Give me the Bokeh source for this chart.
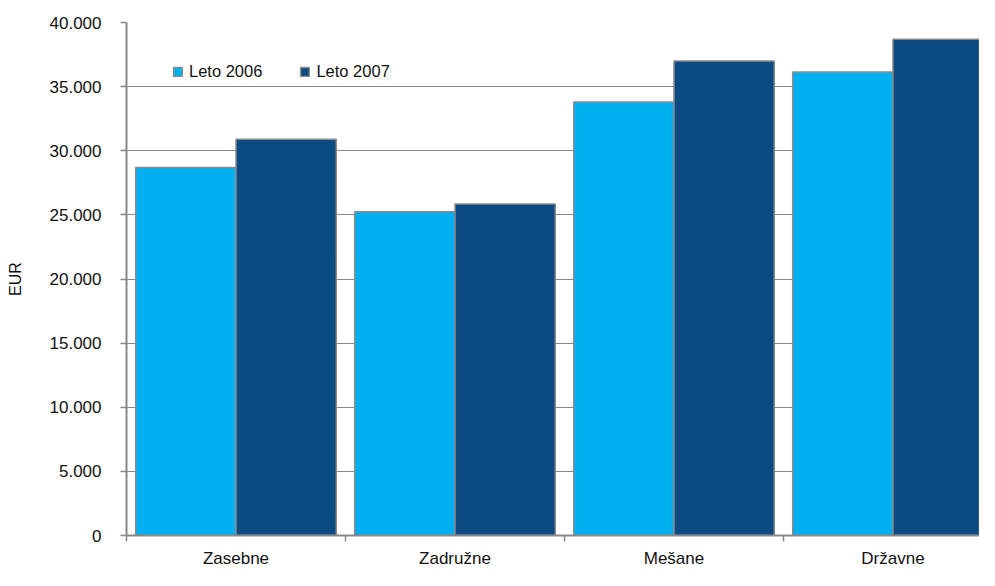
from bokeh.plotting import figure
from bokeh.models import (Range1d, FixedTicker, Legend, LegendItem, ColumnDataSource)
from bokeh.embed import file_html
from bokeh.resources import INLINE

# ---- data ----
categories = ["Zasebne", "Zadružne", "Mešane", "Državne"]
series_names = ["Leto 2006", "Leto 2007"]
values_2006 = [28700, 25250, 33800, 36150]
values_2007 = [30900, 25850, 37000, 38700]
y_ticks = [0, 5000, 10000, 15000, 20000, 25000, 30000, 35000, 40000]
y_tick_labels = ["0", "5.000", "10.000", "15.000", "20.000", "25.000", "30.000", "35.000", "40.000"]
colors = ["#00B0F0", "#0B4A82"]

FONT = "Liberation Sans"
n = len(categories)
bar_w = 0.458
centers = [i + 0.5 for i in range(n)]

H, TOP, BOTTOM = 570, 22, 35
frame_h = H - TOP - BOTTOM

p = figure(width=979, height=H, output_backend="svg", toolbar_location=None,
           x_range=Range1d(0, 3.895), y_range=Range1d(0, 40000),
           min_border_left=126, min_border_right=0, min_border_top=TOP, min_border_bottom=BOTTOM)
p.outline_line_color = None
p.background_fill_color = "white"
p.border_fill_color = "white"

src06 = ColumnDataSource(dict(x=[c - bar_w / 2 for c in centers], top=values_2006))
src07 = ColumnDataSource(dict(x=[c + bar_w / 2 for c in centers], top=values_2007))
r06 = p.vbar(x="x", top="top", width=bar_w, source=src06, fill_color=colors[0],
             line_color="#8a8a8a", line_width=1.5)
r07 = p.vbar(x="x", top="top", width=bar_w, source=src07, fill_color=colors[1],
             line_color="#8a8a8a", line_width=1.5)

# grid
p.xgrid.visible = False
p.ygrid.ticker = FixedTicker(ticks=y_ticks)
p.ygrid.grid_line_color = "#888888"
p.ygrid.grid_line_width = 1

# y axis
ya = p.yaxis[0]
ya.ticker = FixedTicker(ticks=y_ticks)
ya.major_label_overrides = {t: l for t, l in zip(y_ticks, y_tick_labels)}
ya.axis_line_color = "#888888"
ya.axis_line_width = 2
ya.major_tick_line_color = "#888888"
ya.major_tick_line_width = 1.5
ya.major_tick_out = 6
ya.major_tick_in = 0
ya.minor_tick_line_color = None
ya.major_label_text_font = FONT
ya.major_label_text_font_size = "17px"
ya.major_label_text_color = "#111111"
ya.major_label_standoff = 19
ya.axis_label = "EUR"
ya.axis_label_text_font = FONT
ya.axis_label_text_font_size = "16px"
ya.axis_label_text_font_style = "normal"
ya.axis_label_text_color = "#111111"
ya.axis_label_standoff = 23

# x axis: labels at category centres, tick marks at category boundaries
xa = p.xaxis[0]
xa.ticker = FixedTicker(ticks=centers, minor_ticks=list(range(n + 1)))
xa.major_label_overrides = {c: name for c, name in zip(centers, categories)}
xa.axis_line_color = "#888888"
xa.axis_line_width = 2
xa.major_tick_line_color = None
xa.major_tick_out = 0
xa.major_tick_in = 0
xa.minor_tick_line_color = "#888888"
xa.minor_tick_line_width = 1.5
xa.minor_tick_out = 6
xa.minor_tick_in = 0
xa.major_label_text_font = FONT
xa.major_label_text_font_size = "17px"
xa.major_label_text_color = "#111111"
xa.major_label_standoff = 7

# legend
legend = Legend(items=[LegendItem(label=series_names[0], renderers=[r06]),
                       LegendItem(label=series_names[1], renderers=[r07])],
                orientation="horizontal", location=(46, frame_h - 59),
                glyph_width=11, glyph_height=11, label_standoff=6, spacing=37,
                padding=0, margin=0, border_line_color=None, background_fill_alpha=0,
                label_text_font=FONT, label_text_font_size="16.5px", label_text_color="#111111")
p.add_layout(legend, "center")

open("out.html", "w").write(file_html(p, INLINE))
